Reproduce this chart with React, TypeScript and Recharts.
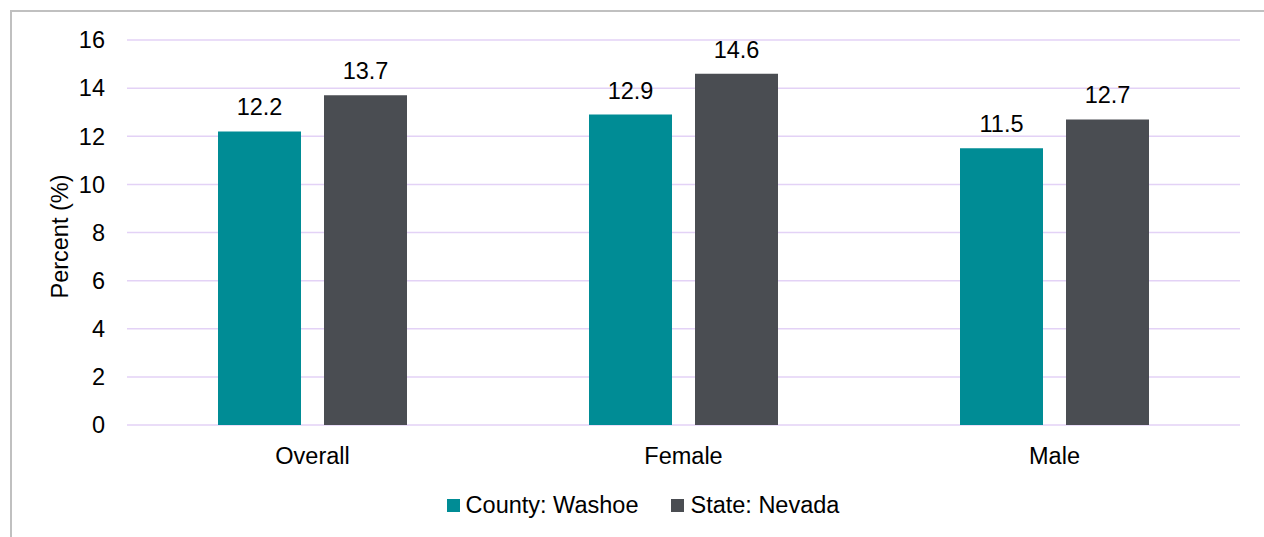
import React from "react";
import { BarChart, Bar, XAxis, YAxis, CartesianGrid, Legend, LabelList } from "recharts";

const categories = ["Overall", "Female", "Male"];
const washoe = [12.2, 12.9, 11.5];
const nevada = [13.7, 14.6, 12.7];
const yTicks = [0, 2, 4, 6, 8, 10, 12, 14, 16];
const seriesNames = ["County: Washoe", "State: Nevada"];

const TEAL = "#008C95";
const GREY = "#4A4D52";
const FONT = "'Liberation Sans', Arial, sans-serif";
const FS = 23.5;

const data = categories.map((name, i) => ({ name, washoe: washoe[i], nevada: nevada[i] }));

const LegendContent = () => (
  <div style={{ display: "flex", justifyContent: "center", alignItems: "center", paddingLeft: 46, fontFamily: FONT, fontSize: FS, lineHeight: "26px", color: "#000" }}>
    {[TEAL, GREY].map((c, i) => (
      <div key={i} style={{ display: "flex", alignItems: "center", marginRight: i === 0 ? 33 : 0 }}>
        <span style={{ width: 13, height: 13, background: c, display: "inline-block", marginRight: 6 }} />
        <span>{seriesNames[i]}</span>
      </div>
    ))}
  </div>
);

export default function App() {
  return (
    <div style={{ position: "absolute", left: 0, top: 0, width: 1264, height: 537, background: "#fff" }}>
      <div style={{ position: "absolute", left: 10, top: 10, right: 0, bottom: 0, borderLeft: "2px solid #C0C0C0", borderTop: "2px solid #C0C0C0" }} />
      <div style={{ position: "absolute", left: 0, top: 0 }}>
        <BarChart width={1264} height={537} data={data} margin={{ top: 40, right: 24, bottom: 0, left: 0 }} barSize={83} barGap={23}>
          <CartesianGrid vertical={false} stroke="#E3D2F6" strokeWidth={1.5} />
          <XAxis
            dataKey="name"
            axisLine={false}
            tickLine={false}
            tickMargin={16}
            height={86}
            tick={{ fill: "#000", fontSize: FS, fontFamily: FONT }}
            interval={0}
          />
          <YAxis
            domain={[0, 16]}
            ticks={yTicks}
            width={127}
            axisLine={false}
            tickLine={false}
            tickMargin={16}
            tick={{ fill: "#000", fontSize: FS, fontFamily: FONT }}
            label={{ value: "Percent (%)", angle: -90, position: "center", dx: -4, dy: 4, fill: "#000", fontSize: FS, fontFamily: FONT }}
          />
          <Legend verticalAlign="bottom" content={<LegendContent />} wrapperStyle={{ bottom: 19 }} />
          <Bar dataKey="washoe" fill={TEAL} isAnimationActive={false}>
            <LabelList dataKey="washoe" position="top" offset={16} fill="#000" fontSize={FS} fontFamily={FONT} />
          </Bar>
          <Bar dataKey="nevada" fill={GREY} isAnimationActive={false}>
            <LabelList dataKey="nevada" position="top" offset={16} fill="#000" fontSize={FS} fontFamily={FONT} />
          </Bar>
        </BarChart>
      </div>
    </div>
  );
}
